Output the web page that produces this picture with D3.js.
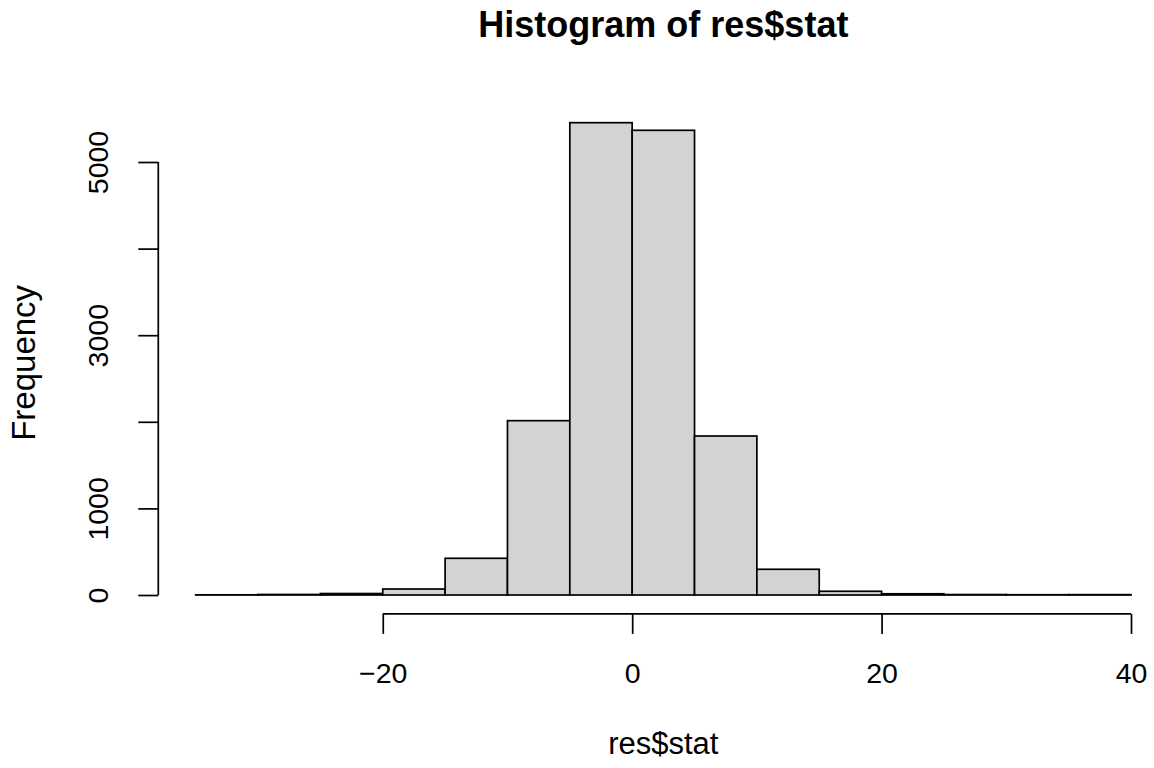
<!DOCTYPE html>
<html>
<head>
<meta charset="utf-8">
<script src="https://cdn.jsdelivr.net/npm/d3@7"></script>
<style>
  html, body { margin: 0; padding: 0; background: #fff; }
  svg { display: block; }
  text { font-family: "Liberation Sans", Arial, Helvetica, sans-serif; fill: #000; }
</style>
</head>
<body>
<svg id="chart" width="1154" height="768"></svg>
<script>
// Histogram bin edges (width 5) and counts per bin
const binStarts = [-35, -30, -25, -20, -15, -10, -5, 0, 5, 10, 15, 20, 25, 30, 35];
const binWidth = 5;
const counts = [2, 6, 17, 69, 424, 2013, 5454, 5366, 1836, 297, 43, 14, 5, 3, 4];

// Axis ticks
const xTicks = [-20, 0, 20, 40];
const yTicks = [0, 1000, 2000, 3000, 4000, 5000];
const yTickLabels = ["0", "1000", "", "3000", "", "5000"];

const titleText = "Histogram of res$stat";
const xLabel = "res$stat";
const yLabel = "Frequency";

const svg = d3.select("#chart");

// Data scales; the plot region extends 4% beyond the data range on each side
const x = d3.scaleLinear().domain([-35, 40]).range([195.7, 1131]);
const y = d3.scaleLinear().domain([0, 5000]).range([595, 162]);
const xPad = 0.04 * (40 - 35 * -1);
const yTop = d3.max(counts) * 1.04;
const plotLeft = x(-35 - xPad), plotRight = x(40 + xPad);
const plotBottom = y(-0.04 * d3.max(counts)), plotTopY = y(yTop);
const axisY = plotBottom;  // x axis sits on the lower edge of the plot region
const axisX = plotLeft;    // y axis sits on the left edge of the plot region
const tickLen = 20;
const tickFont = 28.5;
const labFont = 31;

// Bars
svg.append("g")
  .selectAll("rect")
  .data(binStarts.map((s, i) => ({ x0: s, x1: s + binWidth, n: counts[i] })))
  .join("rect")
  .attr("x", d => x(d.x0))
  .attr("y", d => y(d.n))
  .attr("width", d => x(d.x1) - x(d.x0))
  .attr("height", d => y(0) - y(d.n))
  .attr("fill", "#d3d3d3")
  .attr("stroke", "#000")
  .attr("stroke-width", 1.7);

// X axis
const gx = svg.append("g")
  .attr("transform", `translate(0,${axisY})`)
  .call(d3.axisBottom(x).tickValues(xTicks).tickSize(tickLen).tickSizeOuter(0)
    .tickFormat(d => (d < 0 ? "\u2212" + Math.abs(d) : String(d))));
gx.select(".domain").remove();
gx.append("line")
  .attr("x1", x(xTicks[0])).attr("x2", x(xTicks[xTicks.length - 1]))
  .attr("stroke", "#000").attr("stroke-width", 1.7);
gx.selectAll(".tick line").attr("stroke", "#000").attr("stroke-width", 1.7);
gx.selectAll(".tick text")
  .attr("y", 683 - axisY)
  .attr("dy", null)
  .style("font-size", tickFont + "px")
  .style("font-family", "Liberation Sans, Arial, sans-serif")
  .attr("fill", "#000");

// Y axis
const gy = svg.append("g")
  .attr("transform", `translate(${axisX},0)`)
  .call(d3.axisLeft(y).tickValues(yTicks).tickSize(tickLen).tickSizeOuter(0)
    .tickFormat((d, i) => yTickLabels[i]));
gy.select(".domain").remove();
gy.append("line")
  .attr("y1", y(yTicks[0])).attr("y2", y(yTicks[yTicks.length - 1]))
  .attr("stroke", "#000").attr("stroke-width", 1.7);
gy.selectAll(".tick line").attr("stroke", "#000").attr("stroke-width", 1.7);
gy.selectAll(".tick text")
  .attr("x", null).attr("dy", null)
  .attr("transform", `translate(${108 - axisX},0) rotate(-90)`)
  .attr("text-anchor", "middle")
  .style("font-size", tickFont + "px")
  .style("font-family", "Liberation Sans, Arial, sans-serif")
  .attr("fill", "#000");

// Title and axis labels, centred on the plot region
const cx = (plotLeft + plotRight) / 2;
const cy = (plotBottom + plotTopY) / 2;
svg.append("text")
  .attr("x", cx).attr("y", 37)
  .attr("text-anchor", "middle")
  .style("font-size", "36px").style("font-weight", "bold")
  .text(titleText);

svg.append("text")
  .attr("x", cx).attr("y", 754)
  .attr("text-anchor", "middle")
  .style("font-size", labFont + "px")
  .text(xLabel);

svg.append("text")
  .attr("transform", `translate(35,${cy + 4}) rotate(-90)`)
  .attr("text-anchor", "middle")
  .style("font-size", "33px")
  .text(yLabel);
</script>
</body>
</html>
